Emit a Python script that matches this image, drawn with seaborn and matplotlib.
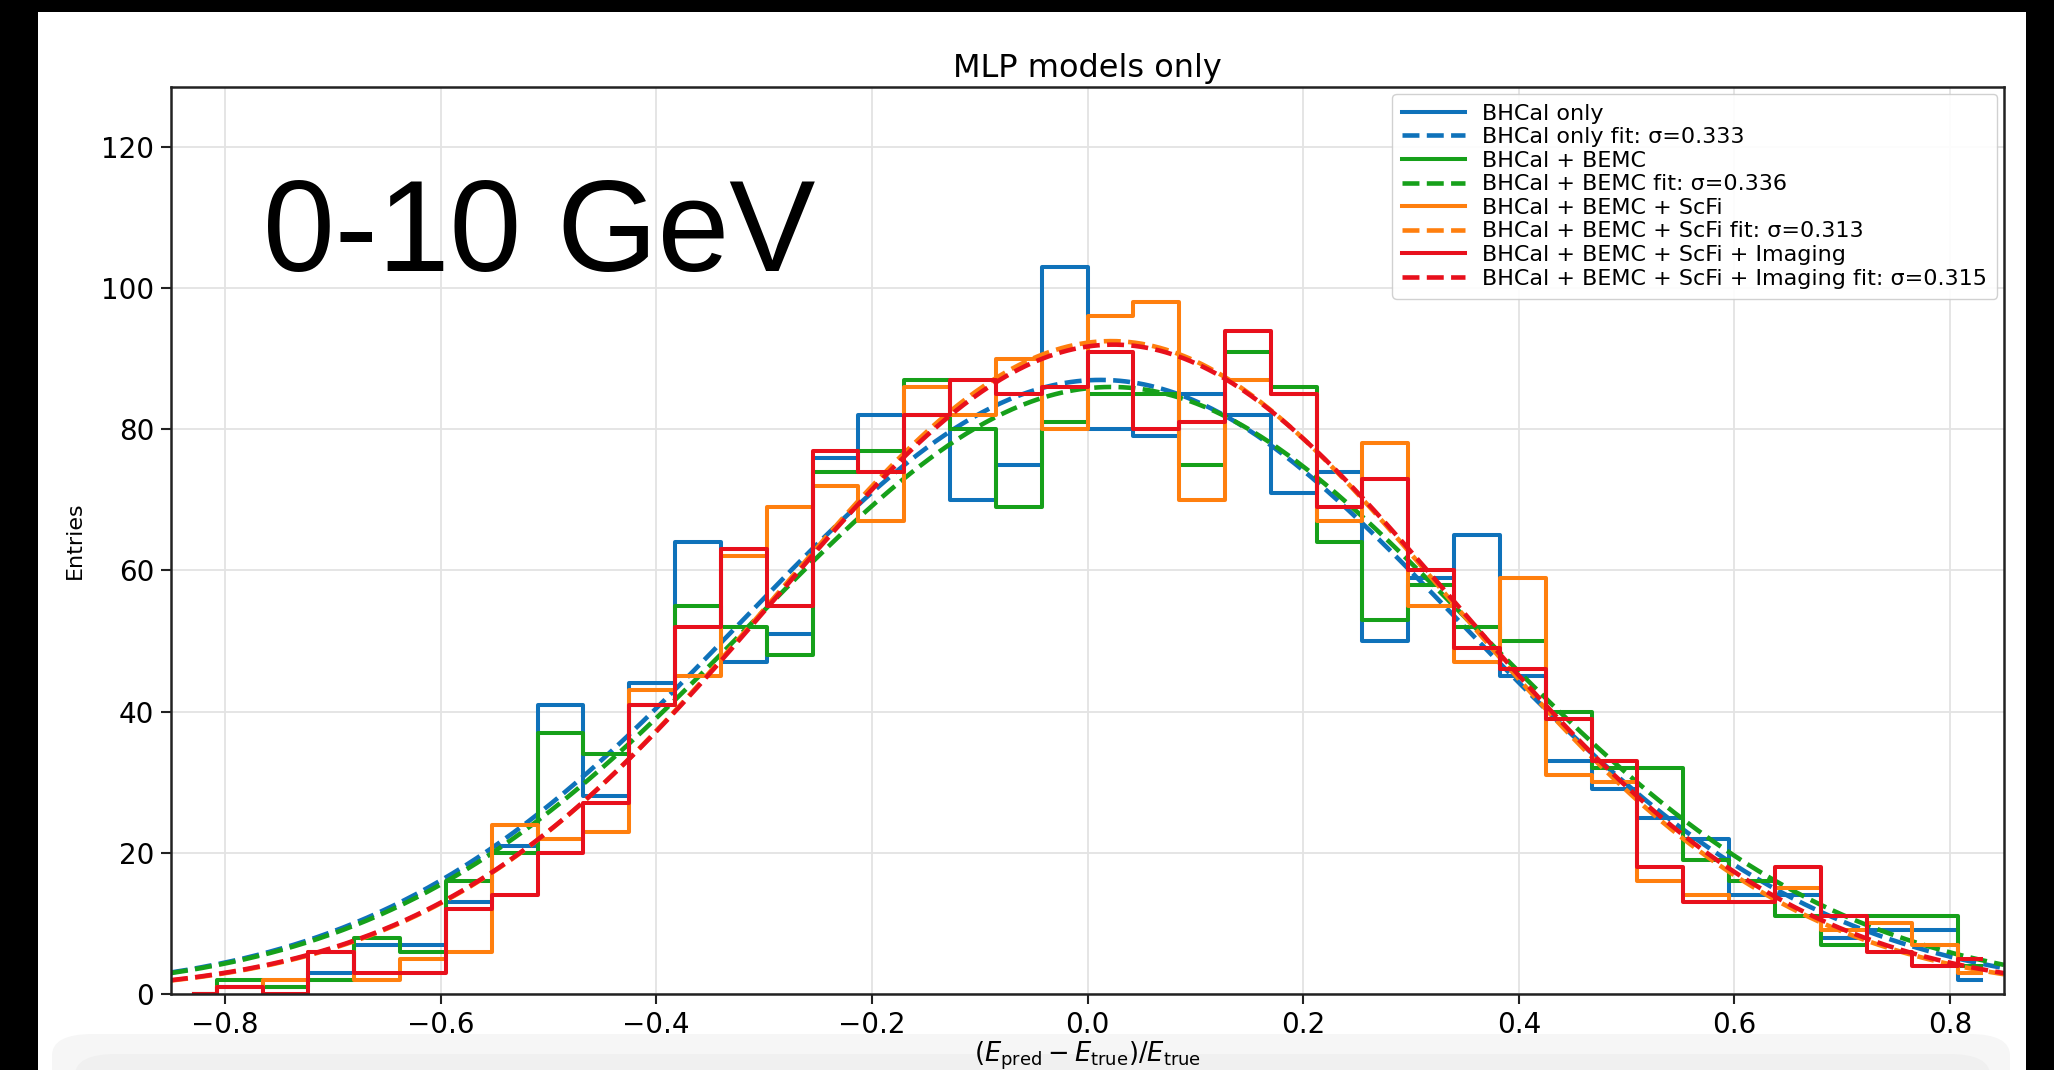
import numpy as np
import pandas as pd
import matplotlib
matplotlib.use("Agg")
import matplotlib.pyplot as plt
import seaborn as sns
from matplotlib.patches import Rectangle, FancyBboxPatch

# ---------------- data ----------------
bin_edges = np.linspace(-0.85, 0.85, 41)
bin_centers = 0.5 * (bin_edges[:-1] + bin_edges[1:])

series_labels = ["BHCal only", "BHCal + BEMC", "BHCal + BEMC + ScFi",
                 "BHCal + BEMC + ScFi + Imaging"]
series_colors = ["#0f72ba", "#16a01a", "#ff7f0e", "#e8101c"]

counts_bhcal = [0, 1, 1, 3, 7, 7, 13, 21, 41, 28, 44, 64, 47, 51, 76, 82, 82, 70, 75, 103,
                80, 79, 85, 82, 71, 74, 50, 59, 65, 45, 33, 29, 25, 22, 14, 14, 8, 9, 9, 2]
counts_bemc = [0, 2, 1, 2, 8, 6, 16, 20, 37, 34, 41, 55, 52, 48, 74, 77, 87, 80, 69, 81,
               85, 85, 75, 91, 86, 64, 53, 58, 52, 50, 40, 32, 32, 19, 16, 11, 7, 11, 11, 4]
counts_scfi = [0, 1, 2, 6, 2, 5, 6, 24, 22, 23, 43, 45, 62, 69, 72, 67, 86, 82, 90, 80,
               96, 98, 70, 87, 85, 67, 78, 55, 47, 59, 31, 30, 16, 14, 13, 15, 9, 10, 7, 3]
counts_imaging = [0, 1, 0, 6, 3, 3, 12, 14, 20, 27, 41, 52, 63, 55, 77, 74, 82, 87, 85, 86,
                  91, 80, 81, 94, 85, 69, 73, 60, 49, 46, 39, 33, 18, 13, 13, 18, 11, 6, 4, 5]

fit_amplitude = [87.0, 86.0, 92.5, 92.0]
fit_mean = [0.012, 0.022, 0.022, 0.024]
fit_sigma = [0.333, 0.336, 0.313, 0.315]

x_ticks = [-0.8, -0.6, -0.4, -0.2, 0.0, 0.2, 0.4, 0.6, 0.8]
y_ticks = [0, 20, 40, 60, 80, 100, 120]

all_counts = [counts_bhcal, counts_bemc, counts_scfi, counts_imaging]

# ---------------- figure ----------------
W, H = 2054, 1070
fig = plt.figure(figsize=(W / 100, H / 100), dpi=100)
fig.patch.set_facecolor("black")

# slide-like background
fig.patches.append(Rectangle((38 / W, 0), (2026 - 38) / W, (H - 12) / H,
                             transform=fig.transFigure, facecolor="white",
                             edgecolor="none", zorder=-10))
fig.patches.append(FancyBboxPatch((52 / W, -0.05), (2010 - 52) / W, 0.05 + (H - 1034) / H,
                                  boxstyle="round,pad=0,rounding_size=0.02",
                                  transform=fig.transFigure, facecolor="#f6f6f6",
                                  edgecolor="none", zorder=-9))
fig.patches.append(FancyBboxPatch((75 / W, -0.05), (1990 - 75) / W, 0.05 + (H - 1054) / H,
                                  boxstyle="round,pad=0,rounding_size=0.02",
                                  transform=fig.transFigure, facecolor="#f0f0f0",
                                  edgecolor="none", zorder=-8))

ax = fig.add_axes([171 / W, (H - 994) / H, (2004 - 171) / W, (994 - 87) / H])
ax.set_facecolor("white")

xfit = np.linspace(-0.85, 0.85, 600)
for lab, col, cnt, a, m, s in zip(series_labels, series_colors, all_counts,
                                  fit_amplitude, fit_mean, fit_sigma):
    df = pd.DataFrame({"x": bin_centers, "y": cnt})
    sns.lineplot(data=df, x="x", y="y", ax=ax, color=col, lw=2.9,
                 drawstyle="steps-mid", label=lab, estimator=None, sort=False)
    yfit = a * np.exp(-0.5 * ((xfit - m) / s) ** 2)
    sns.lineplot(x=xfit, y=yfit, ax=ax, color=col, lw=3.3, linestyle="--",
                 label=f"{lab} fit: \u03c3={s:.3f}", estimator=None, sort=False)

ax.set_xlim(-0.85, 0.85)
ax.set_ylim(0, 128.5)
ax.set_xticks(x_ticks)
ax.set_yticks(y_ticks)
ax.grid(True, color="#e3e3e3", lw=1.3)
ax.set_axisbelow(True)
for sp in ax.spines.values():
    sp.set_color("#222222")
    sp.set_linewidth(1.8)
ax.tick_params(axis="both", labelsize=20, length=7, width=1.5, color="#222222",
               pad=5)

ax.set_xlabel(r"$(E_{\rm pred} - E_{\rm true})/E_{\rm true}$", fontsize=18.5, labelpad=1)
ax.set_ylabel("Entries", fontsize=16, labelpad=12)
ax.set_title("MLP models only", fontsize=23, pad=7)

leg = ax.legend(loc="upper right", fontsize=16, labelspacing=0.16, handlelength=2.8,
                handletextpad=0.8, borderpad=0.45, borderaxespad=0.3,
                framealpha=0.9, edgecolor="#cccccc")

fig.text(263 / W, (H - 271) / H, "0-10 GeV", fontsize=93, family="Liberation Sans",
         color="black", va="baseline", ha="left")

fig.savefig("out.png", dpi=100, facecolor=fig.get_facecolor())
